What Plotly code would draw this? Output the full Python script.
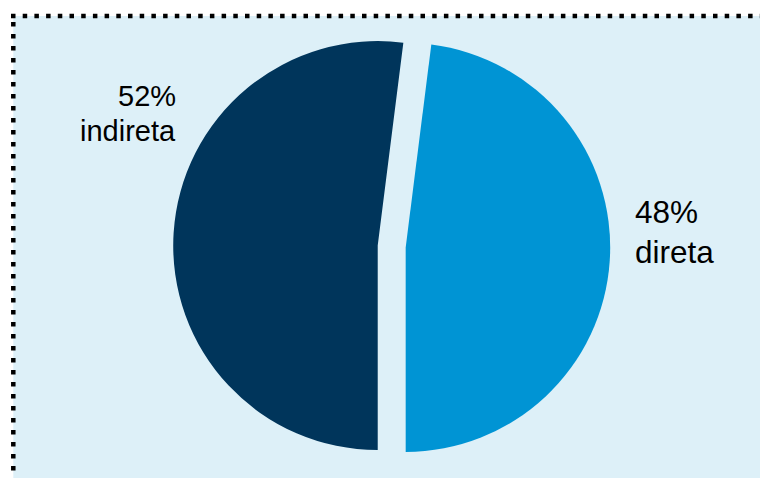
import plotly.graph_objects as go

W, H = 768, 478
OFF = 8  # page body margin offset

labels = ["direta", "indireta"]
values = [48, 52]
colors = ["#0094d4", "#00355b"]

BG = "#ddf0f8"
FONT = "Liberation Sans, Arial, sans-serif"

def px(x):
    return (x - OFF) / W

def py(y):
    return 1 - (y - OFF) / H

# pie geometry (pixels in the photographed page)
cx, cy, r, pull = 391.7, 246.5, 204.5, 0.0685
half = r * (1 + pull)

# first slice (direta) ends at the bottom of the pie, clockwise
start_angle = 180 - 360 * values[0] / sum(values)

fig = go.Figure()
fig.add_trace(go.Pie(
    labels=labels,
    values=values,
    sort=False,
    direction="clockwise",
    rotation=start_angle,
    pull=[pull, pull],
    marker=dict(colors=colors, line=dict(width=0)),
    textinfo="none",
    hoverinfo="skip",
    showlegend=False,
    domain=dict(x=[px(cx - half), px(cx + half)], y=[py(cy + half), py(cy - half)]),
))

shapes = [
    dict(type="rect", xref="paper", yref="paper", x0=px(13.3), x1=1.05, y0=-0.05, y1=py(16),
         fillcolor=BG, line=dict(width=0), layer="below"),
    dict(type="line", xref="paper", yref="paper", x0=px(11), x1=1.05, y0=py(16), y1=py(16),
         line=dict(color="black", width=4.5, dash="4.5px,7.2px"), layer="above"),
    dict(type="line", xref="paper", yref="paper", x0=px(13.3), x1=px(13.3), y0=py(22), y1=py(472),
         line=dict(color="black", width=4.5, dash="4.5px,7.5px"), layer="above"),
]

annotations = []
# indireta (left, right-aligned)
annotations.append(dict(x=px(178), y=py(96), xref="paper", yref="paper", text=f"{values[1]}%",
                        showarrow=False, xanchor="right", yanchor="middle",
                        font=dict(family=FONT, size=29, color="black")))
annotations.append(dict(x=px(178), y=py(131), xref="paper", yref="paper", text=labels[1],
                        showarrow=False, xanchor="right", yanchor="middle",
                        font=dict(family=FONT, size=29, color="black")))
# direta (right, left-aligned)
annotations.append(dict(x=px(633), y=py(211.5), xref="paper", yref="paper", text=f"{values[0]}%",
                        showarrow=False, xanchor="left", yanchor="middle",
                        font=dict(family=FONT, size=31.5, color="black")))
annotations.append(dict(x=px(633), y=py(252), xref="paper", yref="paper", text=labels[0],
                        showarrow=False, xanchor="left", yanchor="middle",
                        font=dict(family=FONT, size=31.5, color="black")))

fig.update_layout(
    width=W, height=H,
    margin=dict(l=0, r=0, t=0, b=0),
    paper_bgcolor="white",
    plot_bgcolor="white",
    shapes=shapes,
    annotations=annotations,
)

fig.write_html("out.html")
